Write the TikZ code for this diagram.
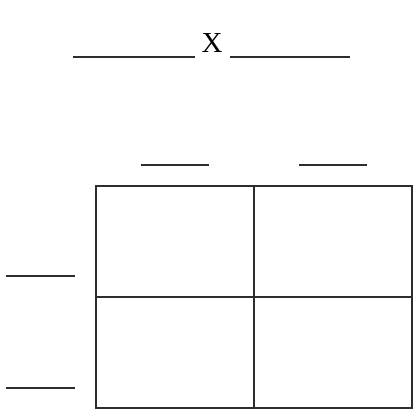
\documentclass[tikz,border=0pt]{standalone}
\usepackage{fontspec}
\setmainfont{Liberation Serif}
\usepackage{xcolor}
\usetikzlibrary{calc,positioning}
\definecolor{inkGray}{RGB}{45,45,45}

\begin{document}
\begin{tikzpicture}[x=1pt,y=-1pt,
  blank/.style={inkGray, line width=1.3pt},
  cell/.style={draw=inkGray, line width=1.2pt, minimum width=158pt, minimum height=111pt, inner sep=0pt, outer sep=0pt}]
\useasboundingbox (0,0) rectangle (414,409);
% parents
\node[font=\fontsize{29}{29}\selectfont, text=black] (cross) at (212,43) {X};
\coordinate (p1a) at (73,57);
\coordinate (p1b) at (195,57);
\coordinate (p2a) at (230,57);
\coordinate (p2b) at (350,57);
\draw[blank] (p1a) -- (p1b);
\draw[blank] (p2a) -- (p2b);
% square
\node[cell, anchor=north west] (c11) at (96,186) {};
\node[cell, right=0pt of c11] (c12) {};
\node[cell, below=0pt of c11] (c21) {};
\node[cell, right=0pt of c21] (c22) {};
% gametes on top
\coordinate (t1) at ($(c11.north)+(0,-21)$);
\coordinate (t2) at ($(c12.north)+(0,-21)$);
\draw[blank] ($(t1)+(-34,0)$) -- ($(t1)+(34,0)$);
\draw[blank] ($(t2)+(-34,0)$) -- ($(t2)+(34,0)$);
% gametes on the side
\coordinate (s1) at ($(c11.south west)+(-55,-21)$);
\coordinate (s2) at ($(c21.south west)+(-55,-20)$);
\draw[blank] ($(s1)+(-35,0)$) -- ($(s1)+(34,0)$);
\draw[blank] ($(s2)+(-35,0)$) -- ($(s2)+(34,0)$);
\end{tikzpicture}
\end{document}
